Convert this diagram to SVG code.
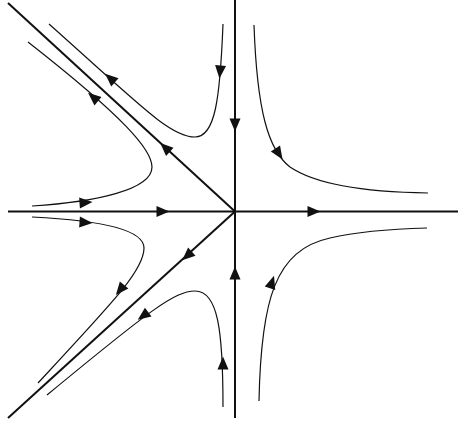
<svg xmlns="http://www.w3.org/2000/svg" width="458" height="422" viewBox="0 0 458 422">
<style>
.axis{fill:none;stroke:#111;stroke-width:2}
.traj{fill:none;stroke:#111;stroke-width:1.2}
.ah{fill:#111;stroke:none}
</style>
<defs>
<path id="ah" d="M6.5,0 L-6.5,-5.5 L-6.5,5.5 Z"/>
</defs>
<rect width="458" height="422" fill="#fff"/>
<g id="connectors">
<line class="axis" x1="235" y1="0" x2="235" y2="418"/>
<line class="axis" x1="8" y1="211.5" x2="458" y2="211.5"/>
<line class="axis" x1="8" y1="3" x2="235" y2="211.5"/>
<line class="axis" x1="235" y1="211.5" x2="8" y2="418"/>
<path class="traj" d="M223,24 C220,100 215,137 195,137 C170,137 140,105 49,24"/>
<path class="traj" d="M32,206 C95,202 152,190 152,167 C152,150 125,118 28,42"/>
<path class="traj" d="M32,217 C95,220 144,228 144,248 C144,270 115,300 38,383"/>
<path class="traj" d="M223,407 C223,330 218,291 195,291 C175,291 150,310 47,395"/>
<path class="traj" d="M254,25 C257,110 268,150 290,167 C315,184 360,192 428,193"/>
<path class="traj" d="M259,401 C261,300 275,250 330,238 C360,231 390,229 427,228"/>
</g>
<g id="arrows">
<use href="#ah" class="ah" transform="translate(235,125) rotate(90)"/>
<use href="#ah" class="ah" transform="translate(163,211.5)"/>
<use href="#ah" class="ah" transform="translate(314,211.5)"/>
<use href="#ah" class="ah" transform="translate(235,273) rotate(-90)"/>
<use href="#ah" class="ah" transform="translate(165,147.5) rotate(-137.4)"/>
<use href="#ah" class="ah" transform="translate(187,256) rotate(137.8)"/>
<use href="#ah" class="ah" transform="translate(220,72) rotate(95)"/>
<use href="#ah" class="ah" transform="translate(110,78) rotate(-138.5)"/>
<use href="#ah" class="ah" transform="translate(86,202.5) rotate(-4)"/>
<use href="#ah" class="ah" transform="translate(93,97) rotate(-139.8)"/>
<use href="#ah" class="ah" transform="translate(86,222.5) rotate(4)"/>
<use href="#ah" class="ah" transform="translate(120,290) rotate(129.3)"/>
<use href="#ah" class="ah" transform="translate(223,363) rotate(-90)"/>
<use href="#ah" class="ah" transform="translate(143,316) rotate(143.6)"/>
<use href="#ah" class="ah" transform="translate(279,154) rotate(56.8)"/>
<use href="#ah" class="ah" transform="translate(272,282) rotate(-72)"/>
</g>
</svg>
